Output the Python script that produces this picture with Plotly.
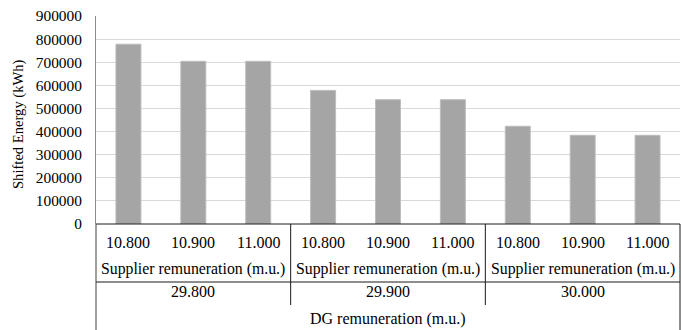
import plotly.graph_objects as go

supplier_labels = ["10.800", "10.900", "11.000"]
dg_labels = ["29.800", "29.900", "30.000"]
shifted_energy = [778000, 704000, 704000, 578000, 538000, 538000, 423000, 384000, 384000]
y_title = "Shifted Energy (kWh)"
supplier_title = "Supplier remuneration (m.u.)"
dg_title = "DG remuneration (m.u.)"

n_sup = len(supplier_labels)
x_idx = list(range(len(shifted_energy)))
tick_text = [supplier_labels[i % n_sup] for i in x_idx]

FONT = "Liberation Serif, Times New Roman, serif"
FS = 16
L, R, T, B = 96, 2, 16, 106
W, H = 682, 330
plot_h = H - T - B


def py(pix):
    return (H - B - pix) / plot_h


fig = go.Figure(go.Bar(
    x=x_idx, y=shifted_energy, width=0.385,
    marker=dict(color="#A5A5A5", line=dict(color="#BDBDBD", width=1)),
))

annotations = []
for i, t in enumerate(tick_text):
    annotations.append(dict(x=i, y=py(243), xref="x", yref="paper", text=t,
                            showarrow=False, yanchor="middle", font=dict(size=FS)))
for g, d in enumerate(dg_labels):
    cx = g * n_sup + (n_sup - 1) / 2
    annotations.append(dict(x=cx, y=py(268.5), xref="x", yref="paper", text=supplier_title,
                            showarrow=False, yanchor="middle", font=dict(size=15.8)))
    annotations.append(dict(x=cx, y=py(291.5), xref="x", yref="paper", text=d,
                            showarrow=False, yanchor="middle", font=dict(size=FS)))
annotations.append(dict(x=0.5, y=py(319), xref="paper", yref="paper", text=dg_title,
                        showarrow=False, yanchor="middle", font=dict(size=FS)))
annotations.append(dict(x=(19 - L) / (W - L - R), y=py(124), xref="paper", yref="paper",
                        text=y_title, textangle=-90, showarrow=False,
                        xanchor="center", yanchor="middle", font=dict(size=14.6)))

line_style = dict(color="#1a1a1a", width=1)
shapes = [
    dict(type="line", xref="paper", yref="paper", x0=0, x1=1, y0=0, y1=0, line=line_style),
    dict(type="line", xref="paper", yref="paper", x0=0, x1=1, y0=py(282), y1=py(282), line=line_style),
    dict(type="line", xref="paper", yref="paper", x0=0, x1=0, y0=0, y1=py(335), line=dict(color="#404040", width=1)),
    dict(type="line", xref="paper", yref="paper", x0=1, x1=1, y0=0, y1=py(335), line=line_style),
]
for g in range(1, len(dg_labels)):
    xs = g * n_sup - 0.5
    shapes.append(dict(type="line", xref="x", yref="paper", x0=xs, x1=xs,
                       y0=0, y1=py(305), line=line_style))

fig.update_layout(
    width=W, height=H,
    margin=dict(l=L, r=R, t=T, b=B),
    paper_bgcolor="white", plot_bgcolor="white",
    font=dict(family=FONT, size=FS, color="#000000"),
    showlegend=False,
    xaxis=dict(range=[-0.5, len(shifted_energy) - 0.5], showticklabels=False,
               showgrid=False, zeroline=False, showline=False, fixedrange=True),
    yaxis=dict(range=[0, 900000], dtick=100000, tickformat="d",
               showgrid=True, gridcolor="#D9D9D9", gridwidth=1,
               zeroline=False, showline=True, linecolor="#8C8C8C", linewidth=1,
               ticks="", ticklabelstandoff=10,
               tickfont=dict(family=FONT, size=15.4, color="#000000")),
    annotations=annotations,
    shapes=shapes,
)

fig.write_html(
    "out.html",
    config={"displayModeBar": False},
    post_script="document.body.style.margin='0';document.body.style.padding='0';"
                "document.body.style.overflow='hidden';",
)
